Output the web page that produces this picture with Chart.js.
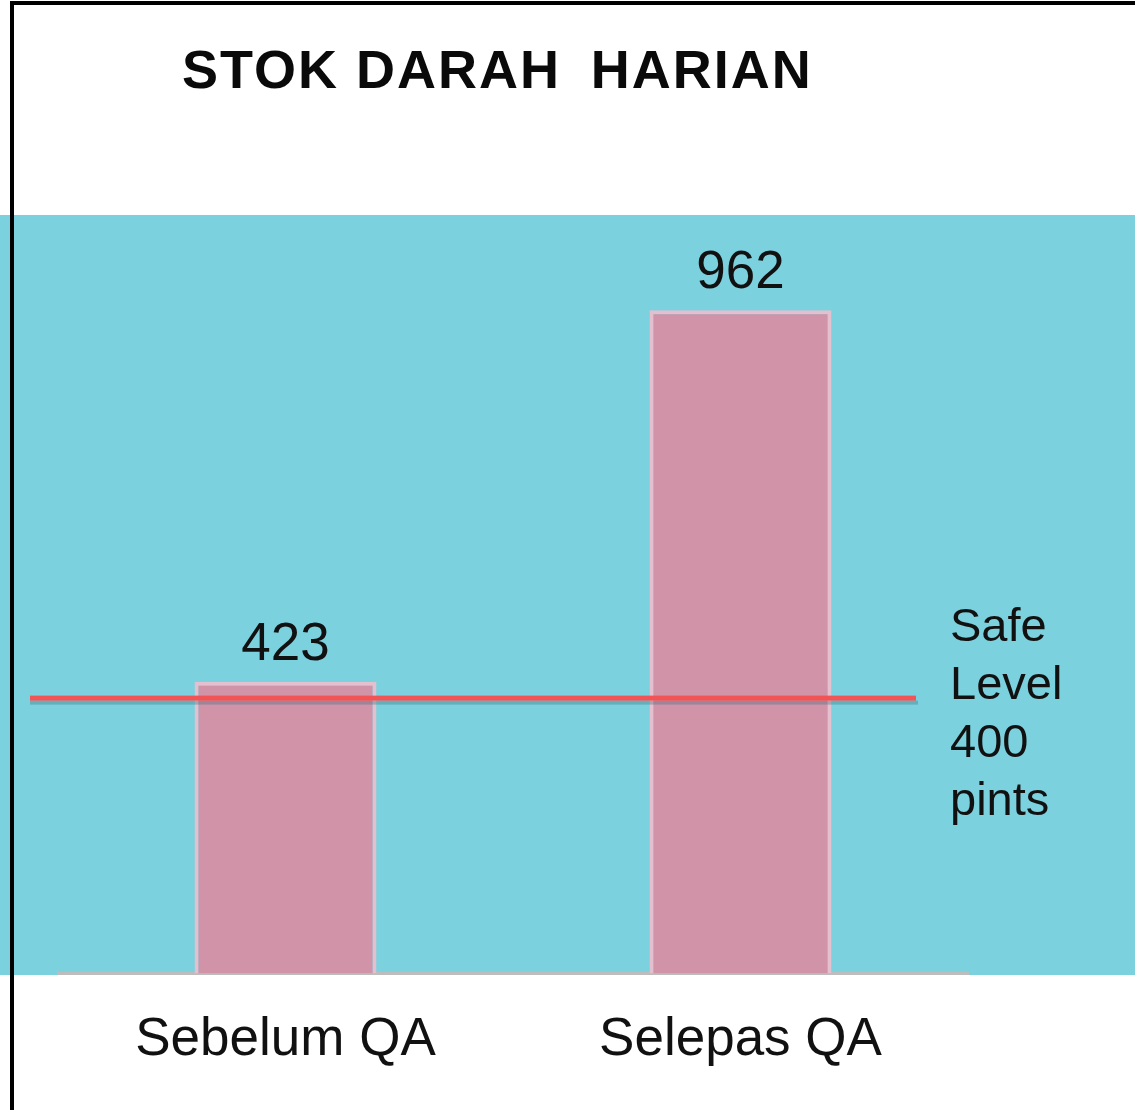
<!DOCTYPE html>
<html>
<head>
<meta charset="utf-8">
<title>Stok Darah Harian</title>
<script src="https://cdn.jsdelivr.net/npm/chart.js@4.4.1/dist/chart.umd.min.js"></script>
<style>
    html, body { margin: 0; padding: 0; background: #ffffff; }
    #wrap { width: 1135px; height: 1110px; position: relative; }
</style>
</head>
<body>
<div id="wrap"><canvas id="grafico-stok"></canvas></div>
<script>
// Datos del gráfico
const categorias = ['Sebelum QA', 'Selepas QA'];
const stokDarah = [423, 962];
const nivelSeguro = 400;
const etiquetaSeguro = ['Safe', 'Level', '400', 'pints'];
const titulo = 'STOK DARAH\u2009 HARIAN';

// Colores
const COLOR_FONDO = '#7bd1de';
const COLOR_BARRA = '#d093a8';
const COLOR_BORDE_BARRA = '#e4c0ce';
const COLOR_LINEA = '#f25456';

// Plugin para fondo, marco, título, valores y línea de nivel seguro
const decoracion = {
    id: 'decoracion',
    beforeDraw(chart) {
        const ctx = chart.ctx;
        ctx.save();
        ctx.fillStyle = '#ffffff';
        ctx.fillRect(0, 0, chart.width, chart.height);
        // Franja turquesa
        ctx.fillStyle = COLOR_FONDO;
        ctx.fillRect(0, 215, chart.width, 760);
        ctx.restore();
    },
    afterDatasetsDraw(chart) {
        const ctx = chart.ctx;
        const y = chart.scales.y;
        const yLinea = y.getPixelForValue(nivelSeguro);
        ctx.save();
        // Sombra de la línea
        ctx.fillStyle = 'rgba(60,110,120,0.35)';
        ctx.fillRect(30, yLinea + 3, 888, 4);
        // Línea roja
        ctx.fillStyle = COLOR_LINEA;
        ctx.fillRect(30, yLinea - 2, 886, 5);

        // Valores encima de las barras
        ctx.fillStyle = '#111111';
        ctx.font = '53px Arial, "Liberation Sans", sans-serif';
        ctx.textAlign = 'center';
        ctx.textBaseline = 'alphabetic';
        const meta = chart.getDatasetMeta(0);
        meta.data.forEach((barra, i) => {
            ctx.fillText(String(stokDarah[i]), barra.x, barra.y - 22);
        });

        // Etiqueta del nivel seguro
        ctx.textAlign = 'left';
        ctx.font = '47px Arial, "Liberation Sans", sans-serif';
        etiquetaSeguro.forEach((linea, i) => {
            ctx.fillText(linea, 950, 641 + i * 58);
        });

        // Título
        ctx.fillStyle = '#0a0a0a';
        ctx.font = 'bold 54px Arial, "Liberation Sans", sans-serif';
        ctx.letterSpacing = '2px';
        ctx.fillText(titulo, 182, 88);
        ctx.letterSpacing = '0px';

        // Marco negro
        ctx.fillStyle = '#000000';
        ctx.fillRect(10, 1, 4, chart.height);
        ctx.fillRect(10, 1, chart.width - 10, 4);
        ctx.restore();
    }
};

const ctx = document.getElementById('grafico-stok').getContext('2d');
const grafico = new Chart(ctx, {
    type: 'bar',
    data: {
        labels: categorias,
        datasets: [{
            label: 'Stok darah',
            data: stokDarah,
            backgroundColor: COLOR_BARRA,
            borderColor: COLOR_BORDE_BARRA,
            borderWidth: { top: 4, left: 4, right: 4, bottom: 0 },
            borderSkipped: 'bottom',
            barPercentage: 0.4,
            categoryPercentage: 1.0
        }]
    },
    options: {
        responsive: true,
        maintainAspectRatio: false,
        animation: false,
        layout: {
            padding: { top: 215, left: 58, right: 167, bottom: 3 }
        },
        plugins: {
            legend: { display: false },
            tooltip: { enabled: false },
            title: { display: false }
        },
        scales: {
            x: {
                grid: { display: false, drawTicks: false },
                border: { display: true, color: '#bdbdbd', width: 3 },
                ticks: {
                    color: '#111111',
                    padding: 35,
                    font: { family: 'Arial, "Liberation Sans", sans-serif', size: 53 }
                }
            },
            y: {
                display: false,
                min: 0,
                max: 1100
            }
        }
    },
    plugins: [decoracion]
});
</script>
</body>
</html>
